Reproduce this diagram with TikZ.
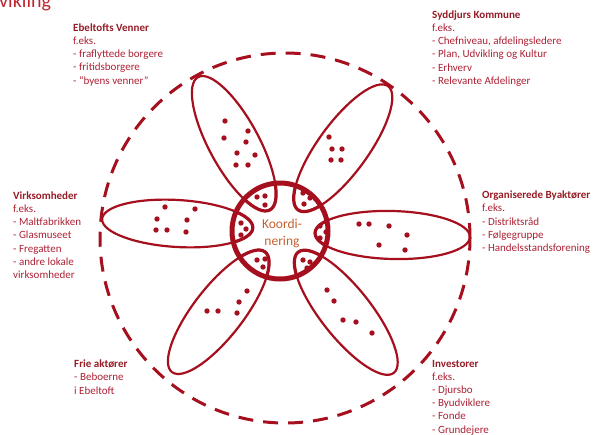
\documentclass[tikz,border=0pt]{standalone}
\usepackage{fontspec}
\setmainfont{Carlito}
\definecolor{dred}{RGB}{166,16,30}
\definecolor{ttl}{RGB}{150,28,38}
\definecolor{txt}{RGB}{172,32,52}
\definecolor{koord}{RGB}{196,96,48}
\definecolor{head}{RGB}{192,34,46}
\tikzset{
  petalline/.style={draw=dred, line width=2.2pt},
  lobeline/.style={draw=dred, line width=3.2pt},
  ringline/.style={draw=dred, line width=5pt},
  dashring/.style={draw=dred, line width=3pt, dash pattern=on 15pt off 10pt},
  dotmark/.style={fill=dred},
  block/.style={anchor=north west, inner sep=0pt, align=left, text=txt,
    font=\fontsize{11}{13.2}\selectfont, execute at begin node=\strut},
}
\newcommand{\ttlx}[1]{\textcolor{ttl}{\textbf{#1}}}
\begin{document}
\begin{tikzpicture}[x=1pt,y=-1pt]
\useasboundingbox (0,0) rectangle (596,434);
\clip (0,0) rectangle (596,434);

% heading fragment
\node[anchor=base west, inner sep=0pt, text=head, font=\fontsize{20}{24}\selectfont] (heading) at (-1,7.5) {vikling};

% dashed outer ring
\draw[dashring] (285,238) circle[radius=185pt];

% petals
\foreach \cx/\cy/\ang/\a/\b in {234/143.5/118.4/75.5/25, 343/148/54/76.5/25, 177.5/223.5/176.6/75.5/23.5, 392.5/235/-1.5/77.5/24, 218.5/312/232.2/76/25, 346/312.5/-51.6/77/25}
  \draw[petalline, rotate around={\ang:(\cx,\cy)}] (\cx,\cy) ellipse[x radius=\a pt, y radius=\b pt];

% thick inner lobes
\begin{scope}
  \clip (280,231) circle[radius=48pt];
  \foreach \cx/\cy/\ang/\a/\b in {234/143.5/118.4/75.5/25, 343/148/54/76.5/25, 177.5/223.5/176.6/75.5/23.5, 392.5/235/-1.5/77.5/24, 218.5/312/232.2/76/25, 346/312.5/-51.6/77/25}
    \draw[lobeline, rotate around={\ang:(\cx,\cy)}] (\cx,\cy) ellipse[x radius=\a pt, y radius=\b pt];
\end{scope}

% center ring
\draw[ringline] (280,231) circle[radius=48pt];

% dots in petals
\foreach \p in {(225,121),(248,131),(224,138),(246,142),(237,153),(255,155),(236,165),(248,165),
  (329,137),(332,149),(342,149),(331,160),(341,160),
  (165,207),(195,209),(157,219),(187,220),(156,230),(167,230),(186,232),
  (359,224),(369,224),(389,226),(407,235),(379,245),(405,250),
  (247,291),(239,302),(207,311),(218,311),(237,313),
  (327,290),(334,301),(343,320),(356,322),(372,333),
  (257,197),(265,196),(265,205),
  (303,193),(310,198),(304,204),
  (241,223),(246,229),(241,235),
  (320,226),(326,232),(320,238),
  (257,260),(265,259),(263,267),
  (303,260),(310,262),(307,268)}
  \fill[dotmark] \p circle[radius=2.7pt];

% center text
\node[inner sep=0pt, align=center, text=koord, font=\fontsize{13.5}{17}\selectfont] (koord) at (282,233.5) {Koordi-\\nering};

% text blocks
\node[block] (ebeltoft) at (73,23.3) {\ttlx{Ebeltofts Venner}\\f.eks.\\- fraflyttede borgere\\- fritidsborgere\\- “byens venner”};
\node[block] (syddjurs) at (432,10.3) {\ttlx{Syddjurs Kommune}\\f.eks.\\- Chefniveau, afdelingsledere\\- Plan, Udvikling og Kultur\\- Erhverv\\- Relevante Afdelinger};
\node[block] (virk) at (13,191.3) {\ttlx{Virksomheder}\\f.eks.\\- Maltfabrikken\\- Glasmuseet\\- Fregatten\\- andre lokale\\virksomheder};
\node[block] (organ) at (482,190.8) {\ttlx{Organiserede Byaktører}\\f.eks.\\- Distriktsråd\\- Følgegruppe\\- Handelsstandsforening};
\node[block] (frie) at (74,359.8) {\ttlx{Frie aktører}\\- Beboerne\\i Ebeltoft};
\node[block] (invest) at (432,359.8) {\ttlx{Investorer}\\f.eks.\\- Djursbo\\- Byudviklere\\- Fonde\\- Grundejere};
\end{tikzpicture}
\end{document}
